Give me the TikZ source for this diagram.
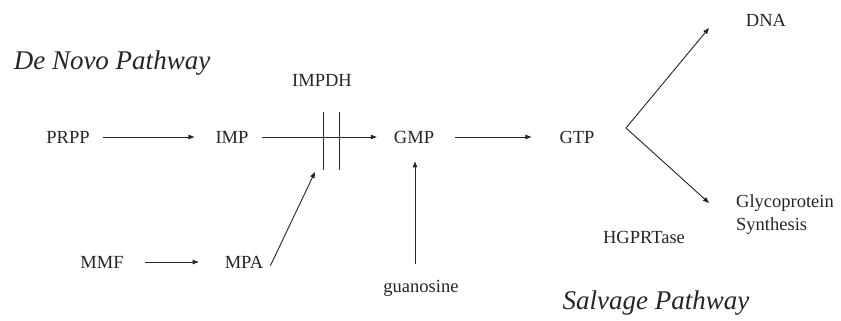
\documentclass[tikz,border=0pt]{standalone}
\usepackage{fontspec}
\setmainfont{Liberation Serif}
\usetikzlibrary{arrows.meta,calc}
\begin{document}
\begin{tikzpicture}[x=1pt,y=-1pt,
  lbl/.style={inner sep=0pt,font=\fontsize{18.5}{23}\selectfont,text=black!85},
  ttl/.style={inner sep=0pt,font=\fontsize{27}{30}\selectfont\itshape,text=black!85},
  arr/.style={draw=black!85,line width=0.9pt,-{Triangle[length=6pt,width=4.5pt]}},
  ln/.style={draw=black!85,line width=0.9pt}]
\useasboundingbox[fill=white] (0,0) rectangle (841,321);
\node[ttl] (denovo) at (112,63) {De Novo Pathway};
\node[ttl] (salvage) at (656,303) {Salvage Pathway};
\node[lbl] (impdh) at (322,80) {IMPDH};
\node[lbl] (prpp) at (68,137) {PRPP};
\node[lbl] (imp) at (232,137) {IMP};
\node[lbl] (gmp) at (414,137) {GMP};
\node[lbl] (gtp) at (577,137) {GTP};
\node[lbl] (dna) at (766,20) {DNA};
\node[lbl,align=left,anchor=west] (glyco) at (736,215) {Glycoprotein\\Synthesis};
\node[lbl] (hgprt) at (644,237) {HGPRTase};
\node[lbl] (guan) at (421,288) {guanosine};
\node[lbl] (mmf) at (102,262) {MMF};
\node[lbl] (mpa) at (244,262) {MPA};
% inhibition bars
\coordinate (b1t) at (323,112); \coordinate (b1b) at (323,170);
\coordinate (b2t) at (339,112); \coordinate (b2b) at (339,170);
\draw[ln] (b1t) -- (b1b);
\draw[ln] (b2t) -- (b2b);
\coordinate (fork) at (626,128);
\coordinate (dnatip) at (709,28);
\coordinate (glytip) at (709,203);
\coordinate (bartip) at (315,172);
% arrows
\draw[arr] ([xshift=13pt]prpp.east) -- ([xshift=-21pt]imp.west);
\draw[arr] ([xshift=13pt]imp.east) -- ([xshift=-17pt]gmp.west);
\draw[arr] ([xshift=21pt]gmp.east) -- ([xshift=-28pt]gtp.west);
\draw[arr] ([xshift=21pt]mmf.east) -- ([xshift=-26pt]mpa.west);
\draw[arr] ([shift={(7pt,-10pt)}]mpa.north east) -- (bartip);
\draw[arr] ([shift={(-6pt,16pt)}]guan.north) -- ([shift={(1pt,-18pt)}]gmp.south);
\draw[arr] (fork) -- (dnatip);
\draw[arr] (fork) -- (glytip);
\end{tikzpicture}
\end{document}
